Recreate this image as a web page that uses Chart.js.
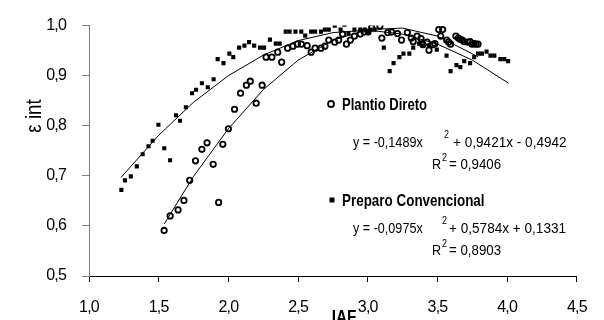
<!DOCTYPE html>
<html>
<head>
<meta charset="utf-8">
<script src="https://cdn.jsdelivr.net/npm/chart.js@4.4.1/dist/chart.umd.min.js"></script>
<style>
  html, body { margin: 0; padding: 0; background: #fff; }
  #wrap { width: 604px; height: 320px; }
</style>
</head>
<body>
<div id="wrap"><canvas id="chart" width="604" height="320"></canvas></div>
<script>
// Preparo Convencional (squares)
const pcX = [1.232, 1.258, 1.300, 1.343, 1.385, 1.427, 1.456, 1.498, 1.540, 1.582, 1.624, 1.653, 1.695,
  1.739, 1.768, 1.810, 1.852, 1.894, 1.923, 1.965, 2.007, 2.035, 2.077, 2.115, 2.148, 2.185, 2.227, 2.256,
  2.298, 2.340, 2.368, 2.411, 2.439, 2.481, 2.523, 2.551, 2.594, 2.622, 2.664, 2.692, 2.720, 2.763, 2.805,
  2.833, 2.861, 2.904, 2.946, 2.979, 3.002, 3.021, 3.049, 3.115, 3.157, 3.185, 3.227, 3.256, 3.298, 3.326,
  3.368, 3.396, 3.439, 3.495, 3.565, 3.594, 3.636, 3.664, 3.692, 3.734, 3.763, 3.791, 3.819, 3.852, 3.880,
  3.908, 3.951, 3.979, 4.007];
const pcY = [0.672, 0.691, 0.699, 0.719, 0.743, 0.759, 0.770, 0.802, 0.755, 0.731, 0.821, 0.810, 0.837,
  0.865, 0.872, 0.885, 0.877, 0.893, 0.933, 0.925, 0.944, 0.937, 0.956, 0.960, 0.967, 0.960, 0.956, 0.956,
  0.972, 0.964, 0.964, 0.988, 0.988, 0.988, 0.988, 0.980, 0.988, 0.988, 0.988, 0.992, 0.992, 1.000, 0.992,
  1.002, 0.984, 0.992, 0.992, 0.992, 0.986, 0.992, 0.992, 0.956, 0.909, 0.925, 0.937, 0.944, 0.944, 0.956,
  0.964, 0.960, 0.960, 0.952, 0.940, 0.909, 0.921, 0.917, 0.929, 0.925, 0.937, 0.944, 0.944, 0.948, 0.940,
  0.940, 0.933, 0.933, 0.929];

// Plantio Direto (circles)
const pdX = [1.539, 1.582, 1.639, 1.681, 1.722, 1.764, 1.810, 1.847, 1.891, 1.930, 1.960, 2.000, 2.044,
  2.087, 2.129, 2.157, 2.199, 2.242, 2.270, 2.312, 2.354, 2.382, 2.425, 2.463, 2.495, 2.523, 2.565, 2.594,
  2.622, 2.664, 2.692, 2.720, 2.763, 2.791, 2.819, 2.847, 2.875, 2.904, 2.946, 2.974, 3.002, 3.028, 3.087,
  3.101, 3.143, 3.171, 3.213, 3.242, 3.284, 3.312, 3.326, 3.354, 3.382, 3.396, 3.425, 3.439, 3.467, 3.481,
  3.509, 3.523, 3.537, 3.566, 3.580, 3.594, 3.632, 3.650, 3.664, 3.678, 3.692, 3.720, 3.734, 3.748, 3.763,
  3.777, 3.791];
const pdY = [0.591, 0.620, 0.632, 0.651, 0.691, 0.730, 0.753, 0.766, 0.723, 0.647, 0.763, 0.794, 0.833,
  0.865, 0.881, 0.889, 0.845, 0.881, 0.937, 0.937, 0.947, 0.927, 0.955, 0.959, 0.963, 0.963, 0.960, 0.947,
  0.955, 0.955, 0.959, 0.971, 0.967, 0.971, 0.983, 0.963, 0.971, 0.979, 0.983, 0.987, 0.987, 0.996, 0.999,
  0.975, 0.986, 0.987, 0.984, 0.971, 0.986, 0.975, 0.968, 0.979, 0.974, 0.962, 0.967, 0.951, 0.962, 0.964,
  0.992, 0.979, 0.992, 0.971, 0.967, 0.963, 0.979, 0.975, 0.972, 0.971, 0.968, 0.967, 0.968, 0.963, 0.964,
  0.963, 0.963];

// trend lines
const pdTrendX = [1.54, 1.75, 2.0, 2.25, 2.5, 2.75, 3.0, 3.25, 3.5, 3.79];
const pdTrendY = [0.604, 0.699, 0.794, 0.872, 0.931, 0.971, 0.992, 0.995, 0.979, 0.938];
const pcTrendX = [1.23, 1.5, 1.75, 2.0, 2.25, 2.5, 2.75, 3.0, 3.25, 3.5, 3.75, 4.01];
const pcTrendY = [0.697, 0.781, 0.847, 0.900, 0.941, 0.970, 0.986, 0.991, 0.983, 0.963, 0.931, 0.885];

const xTicks = [1.0, 1.5, 2.0, 2.5, 3.0, 3.5, 4.0, 4.5];
const yTicks = [0.5, 0.6, 0.7, 0.8, 0.9, 1.0];

const FONT = "'Liberation Sans', Arial, sans-serif";
const pts = (xs, ys) => xs.map((x, i) => ({ x: x, y: ys[i] }));
const comma = v => Number(v).toFixed(1).replace('.', ',');

// narrow text: no Arial Narrow here, so squeeze Liberation Sans horizontally
function narrowText(ctx, str, x, y, font, sx) {
    ctx.save();
    ctx.font = font;
    ctx.translate(x, y);
    ctx.scale(sx, 1);
    ctx.fillText(str, 0, 0);
    ctx.restore();
}

// axis titles and the in-chart legend / equations
const annotations = {
    id: 'annotations',
    beforeDraw(chart) {
        // tighter tick labels, closer to the narrow face of the original
        chart.ctx.letterSpacing = '-0.8px';
    },
    afterDraw(chart) {
        const ctx = chart.ctx;
        ctx.letterSpacing = '0px';
        ctx.save();
        ctx.fillStyle = '#000';
        ctx.textBaseline = 'middle';
        ctx.textAlign = 'left';

        // y title
        ctx.save();
        ctx.translate(35, 116);
        ctx.rotate(-Math.PI / 2);
        ctx.textAlign = 'center';
        narrowText(ctx, '\u03B5 int', 0, 0, '22px ' + FONT, 0.85);
        ctx.restore();

        // x title
        ctx.save();
        ctx.textAlign = 'center';
        narrowText(ctx, 'IAF', 344, 318, 'bold 18px ' + FONT, 0.85);
        ctx.restore();

        // Plantio Direto
        ctx.lineWidth = 1.8;
        ctx.strokeStyle = '#000';
        ctx.beginPath();
        ctx.arc(331, 104, 3, 0, Math.PI * 2);
        ctx.stroke();
        narrowText(ctx, 'Plantio Direto', 342, 105, 'bold 17px ' + FONT, 0.77);

        narrowText(ctx, 'y = -0,1489x', 353, 143, '14px ' + FONT, 0.9);
        narrowText(ctx, '+ 0,9421x - 0,4942', 453, 143, '14px ' + FONT, 0.97);
        narrowText(ctx, 'R', 432, 165, '14px ' + FONT, 0.9);
        narrowText(ctx, '= 0,9406', 449, 165, '14px ' + FONT, 0.95);
        narrowText(ctx, '2', 444, 135, '10px ' + FONT, 0.9);
        narrowText(ctx, '2', 442, 158, '10px ' + FONT, 0.9);

        // Preparo Convencional
        ctx.fillRect(329.5, 197.5, 5, 5);
        narrowText(ctx, 'Preparo Convencional', 342, 201, 'bold 17px ' + FONT, 0.79);

        narrowText(ctx, 'y = -0,0975x', 353, 229, '14px ' + FONT, 0.9);
        narrowText(ctx, '+ 0,5784x + 0,1331', 449, 229, '14px ' + FONT, 0.97);
        narrowText(ctx, 'R', 432, 251, '14px ' + FONT, 0.9);
        narrowText(ctx, '= 0,8903', 449, 251, '14px ' + FONT, 0.95);
        narrowText(ctx, '2', 442, 221, '10px ' + FONT, 0.9);
        narrowText(ctx, '2', 442, 244, '10px ' + FONT, 0.9);

        ctx.restore();
    }
};

const ctx = document.getElementById('chart').getContext('2d');
window.iafChart = new Chart(ctx, {
    type: 'scatter',
    data: {
        datasets: [
            { label: 'Plantio Direto', data: pts(pdX, pdY), pointStyle: 'circle', pointRadius: 2.7,
              backgroundColor: 'rgba(255,255,255,0)', borderColor: '#000', borderWidth: 1.8 },
            { label: 'Preparo Convencional', data: pts(pcX, pcY), pointStyle: 'rect', pointRadius: 2.9,
              backgroundColor: '#000', borderColor: '#000', borderWidth: 0 },
            { label: 'PD trend', data: pts(pdTrendX, pdTrendY), showLine: true, pointRadius: 0,
              borderColor: '#000', borderWidth: 1, tension: 0 },
            { label: 'PC trend', data: pts(pcTrendX, pcTrendY), showLine: true, pointRadius: 0,
              borderColor: '#000', borderWidth: 1, tension: 0 }
        ]
    },
    options: {
        responsive: false,
        animation: false,
        layout: { padding: { left: 0, right: 18, top: 24, bottom: 0 } },
        plugins: { legend: { display: false }, tooltip: { enabled: false } },
        scales: {
            x: {
                type: 'linear', min: 1.0, max: 4.5,
                afterBuildTicks: s => { s.ticks = xTicks.map(v => ({ value: v })); },
                afterFit: s => { s.height = 44; },
                grid: { drawOnChartArea: false, drawTicks: true, tickLength: 6, color: '#000' },
                border: { display: true, color: '#000', width: 1 },
                ticks: { color: '#000', padding: 16, font: { family: FONT, size: 16 }, callback: comma }
            },
            y: {
                type: 'linear', min: 0.5, max: 1.0,
                afterBuildTicks: s => { s.ticks = yTicks.map(v => ({ value: v })); },
                afterFit: s => { s.width = 89; },
                grid: { drawOnChartArea: false, drawTicks: true, tickLength: 7, color: '#808080' },
                border: { display: true, color: '#808080', width: 1 },
                ticks: { color: '#000', padding: 16, font: { family: FONT, size: 16 }, callback: comma }
            }
        }
    },
    plugins: [annotations]
});
</script>
</body>
</html>
